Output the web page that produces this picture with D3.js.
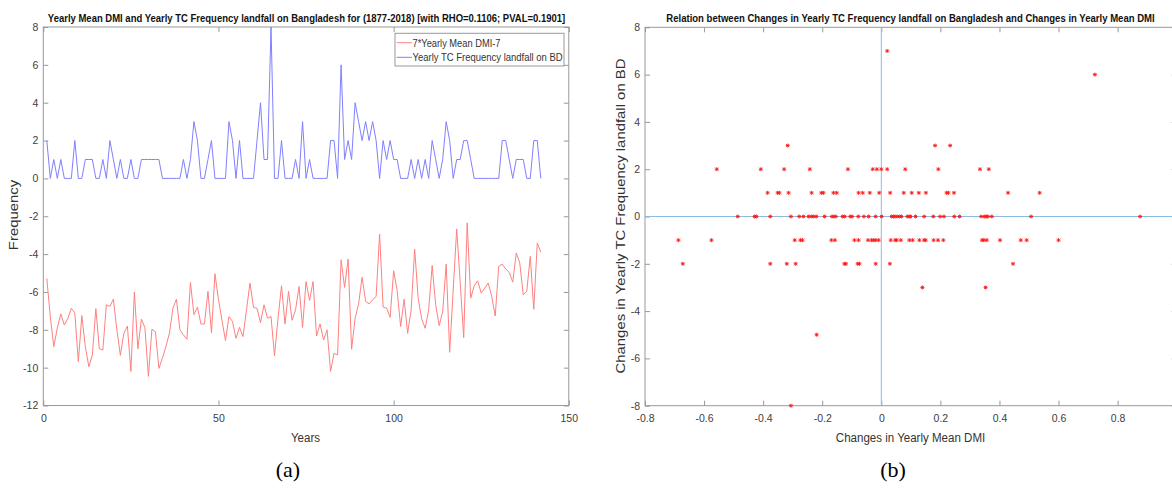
<!DOCTYPE html>
<html><head><meta charset="utf-8">
<script src="https://cdn.jsdelivr.net/npm/d3@7"></script>
<style>
html,body{margin:0;padding:0;background:#fff;}
svg{display:block;}
</style></head>
<body>
<svg id="c" width="1172" height="488"></svg>
<script>
// ---------------- DATA ----------------
const years = d3.range(1, 143); // year index 1..142 (1877-2018)
const tcFreq = [2,0,1,0,1,0,0,0,2,0, 0,1,1,1,0,0,1,0,2,1, 0,1,0,0,1,0,0,1,1,1,
  1,1,1,0,0,0,0,0,0,1, 0,1,3,2,0,0,1,2,0,0, 0,0,3,2,0,2,0,0,0,0,
  2,4,1,1,8,0,0,2,0,0, 0,1,0,3,0,1,0,0,0,0, 0,2,2,0,6,1,2,1,4,3,
  2,3,2,3,2,0,2,1,2,1, 1,0,0,0,1,0,1,0,1,0, 2,1,0,1,3,2,0,1,1,2,
  2,1,0,0,0,0,0,0,0,0, 2,2,1,0,1,1,1,0,0,2, 2,0];
const dmiScaled = [-5.29,-7.3,-8.89,-7.9,-7.16,-7.74,-7.4,-6.86,-7.12,-9.68,
  -7.25,-8.9,-9.95,-9.33,-6.88,-9.0,-9.07,-6.68,-6.77,-6.38,
  -8.0,-9.35,-8.18,-7.8,-10.2,-6.0,-9.0,-7.44,-7.88,-10.46,
  -7.97,-8.1,-10.04,-9.5,-8.89,-8.18,-6.86,-6.38,-8.0,-8.27,
  -8.5,-5.5,-7.2,-6.8,-7.69,-7.69,-5.97,-8.15,-5.04,-6.4,
  -7.5,-8.57,-7.3,-7.56,-8.45,-7.87,-8.36,-6.95,-5.53,-6.82,
  -6.86,-7.62,-6.68,-7.39,-7.3,-9.37,-7.4,-5.67,-7.69,-5.97,
  -7.5,-6.95,-5.71,-7.87,-5.45,-6.45,-5.45,-8.33,-7.69,-8.54,
  -8.0,-10.2,-9.24,-9.33,-4.3,-5.76,-4.26,-9.03,-7.39,-6.63,
  -5.22,-6.5,-6.63,-6.42,-6.24,-2.94,-6.8,-6.86,-7.34,-4.88,
  -5.92,-7.83,-6.38,-8.18,-6.95,-3.73,-6.33,-7.42,-7.92,-6.95,
  -4.6,-6.68,-7.78,-7.04,-4.53,-9.19,-5.9,-2.67,-5.5,-8.41,
  -2.35,-6.33,-5.67,-5.41,-6.06,-5.8,-5.53,-6.24,-7.27,-4.65,
  -4.53,-4.79,-4.97,-5.48,-3.94,-4.47,-6.15,-5.97,-4.12,-6.91,
  -3.41,-3.9];
// scatter: changes in yearly mean DMI (x) and changes in TC frequency (y)
const dmiChange = [
  0.020,
  0.723,
  -0.317,0.182,0.233,
  -0.557,-0.408,-0.329,-0.242,-0.113,-0.029,-0.015,0.0,0.020,0.081,0.193,0.334,0.364,
  -0.385,-0.351,-0.345,-0.314,-0.236,-0.203,-0.196,-0.162,-0.151,-0.077,-0.063,-0.039,-0.007,0.030,0.076,0.103,0.127,0.151,0.221,0.227,0.246,0.429,0.536,
  -0.486,-0.429,-0.423,-0.376,-0.306,-0.278,-0.264,-0.246,-0.236,-0.229,-0.220,-0.192,-0.167,-0.161,-0.154,-0.131,-0.124,-0.105,-0.099,-0.078,-0.059,-0.043,-0.019,0.001,0.035,0.041,0.047,0.054,0.062,0.068,0.088,0.094,0.099,0.116,0.145,0.176,0.199,0.212,0.247,0.265,0.338,0.349,0.356,0.361,0.374,0.507,0.876,
  -0.687,-0.575,-0.293,-0.274,-0.267,-0.169,-0.157,-0.091,-0.077,-0.045,-0.033,-0.026,-0.019,-0.009,0.032,0.047,0.052,0.066,0.095,0.106,0.129,0.145,0.150,0.177,0.192,0.210,0.341,0.347,0.357,0.402,0.472,0.492,0.600,
  -0.672,-0.376,-0.320,-0.290,-0.125,-0.120,-0.080,-0.074,-0.019,0.029,0.446,
  0.139,0.353,
  -0.219,
  -0.306];
const tcChange = [
  7,
  6,
  3,3,3,
  2,2,2,2,2,2,2,2,2,2,2,2,2,
  1,1,1,1,1,1,1,1,1,1,1,1,1,1,1,1,1,1,1,1,1,1,1,
  0,0,0,0,0,0,0,0,0,0,0,0,0,0,0,0,0,0,0,0,0,0,0,0,0,0,0,0,0,0,0,0,0,0,0,0,0,0,0,0,0,0,0,0,0,0,0,
  -1,-1,-1,-1,-1,-1,-1,-1,-1,-1,-1,-1,-1,-1,-1,-1,-1,-1,-1,-1,-1,-1,-1,-1,-1,-1,-1,-1,-1,-1,-1,-1,-1,
  -2,-2,-2,-2,-2,-2,-2,-2,-2,-2,-2,
  -3,-3,
  -5,
  -8];
const leftYTicks = [-12,-10,-8,-6,-4,-2,0,2,4,6,8];
const leftXTicks = [0,50,100,150];
const rightYTicks = [-8,-6,-4,-2,0,2,4,6,8];
const rightXTicks = [-0.8,-0.6,-0.4,-0.2,0,0.2,0.4,0.6,0.8,1.0];
const rightXLabels = [-0.8,-0.6,-0.4,-0.2,0,0.2,0.4,0.6,0.8];

// ---------------- DRAW ----------------
const svg = d3.select("#c");
svg.append("rect").attr("width",1172).attr("height",488).attr("fill","#fff");
const FONT = "'Liberation Sans', Arial, Helvetica, sans-serif";
const AX = "#999";
const TXT = "#404040";
const fmt = d => String(Math.round(d*10)/10);

function box(g, x, y){
  const [x0,x1] = x.range(), [y0,y1] = y.range();
  g.append("rect").attr("x",Math.min(x0,x1)).attr("y",Math.min(y0,y1))
    .attr("width",Math.abs(x1-x0)).attr("height",Math.abs(y1-y0))
    .attr("fill","none").attr("stroke",AX).attr("stroke-width",1);
}
function axes(g, x, y, xt, yt, xl){
  const [x0,x1] = x.range(), [y0,y1] = y.range();
  const style = sel => { sel.select(".domain").remove();
    sel.selectAll("line").attr("stroke",AX);
    sel.selectAll("text").attr("fill",TXT).style("font-family",FONT).style("font-size","10.5px"); };
  g.append("g").attr("transform",`translate(0,${y0})`)
    .call(d3.axisBottom(x).tickValues(xt).tickSizeInner(-5).tickSizeOuter(0).tickPadding(9)
      .tickFormat(d => xl.includes(d) ? fmt(d) : "")).call(style);
  g.append("g").attr("transform",`translate(0,${y1})`)
    .call(d3.axisTop(x).tickValues(xt).tickSizeInner(-5).tickSizeOuter(0).tickFormat("")).call(style);
  g.append("g").attr("transform",`translate(${x0},0)`)
    .call(d3.axisLeft(y).tickValues(yt).tickSizeInner(-5).tickSizeOuter(0).tickPadding(5).tickFormat(fmt)).call(style);
  g.append("g").attr("transform",`translate(${x1},0)`)
    .call(d3.axisRight(y).tickValues(yt).tickSizeInner(-5).tickSizeOuter(0).tickFormat("")).call(style);
}
// horizontal text squeezed (like the reference) to a measured width via a transform
function htext(parent, t, x, y, size, width, weight, anchor){
  const e = parent.append("text").attr("x",0).attr("y",0).attr("text-anchor",anchor || "middle")
    .style("font-family",FONT).style("font-size",size+"px").attr("fill", weight ? "#111" : "#333")
    .style("font-weight", weight || "normal").text(t);
  const w = e.node().getComputedTextLength() || width;
  e.attr("transform",`translate(${x},${y}) scale(${(width/w).toFixed(4)},1)`);
  return e;
}
function vtext(t, x, y, size){
  svg.append("text").attr("transform",`translate(${x},${y}) scale(0.85,1) rotate(-90)`)
    .attr("text-anchor","middle").style("font-family",FONT).style("font-size",size+"px")
    .attr("fill","#333").text(t);
}

// ---- Left chart (a)
const xL = d3.scaleLinear().domain([0,150]).range([43.3,568.8]);
const yL = d3.scaleLinear().domain([-12,8]).range([405.5,27]);
const gL = svg.append("g");
box(gL, xL, yL);
axes(gL, xL, yL, leftXTicks, leftYTicks, leftXTicks);
const line = d3.line().x((d,i)=>xL(years[i])).y(d=>yL(d));
gL.append("path").datum(dmiScaled).attr("d",line).attr("fill","none")
  .attr("stroke","#ff8080").attr("stroke-width",1);
gL.append("path").datum(tcFreq).attr("d",line).attr("fill","none")
  .attr("stroke","#8080ff").attr("stroke-width",1);
// legend
const lg = gL.append("g");
lg.append("rect").attr("x",395).attr("y",33.3).attr("width",169).attr("height",32.7)
  .attr("fill","#fff").attr("stroke",AX);
const legendItems = [["7*Yearly Mean DMI-7","#ff8080",88],["Yearly TC Frequency landfall on BD","#8080ff",150.3]];
legendItems.forEach((it,k)=>{
  const cy = 42.7 + k*14.6;
  lg.append("line").attr("x1",396.7).attr("x2",412).attr("y1",cy).attr("y2",cy)
    .attr("stroke",it[1]).attr("stroke-width",1);
  htext(lg, it[0], 412.5, cy+3.8, 10.6, it[2], null, "start");
});
htext(svg, "Yearly Mean DMI and Yearly TC Frequency landfall on Bangladesh for (1877-2018) [with RHO=0.1106; PVAL=0.1901]",
  306.5, 22, 11.3, 518, "bold");
htext(svg, "Years", 305.5, 442, 13.5, 29);
vtext("Frequency", 18, 215, 14.9);
svg.append("text").attr("x",288).attr("y",477).attr("text-anchor","middle")
  .style("font-family","'Liberation Serif','Times New Roman',serif").style("font-size","22px")
  .attr("fill","#000").text("(a)");

// ---- Right chart (b)
const xR = d3.scaleLinear().domain([-0.8,1.0]).range([645,1176.7]);
const yR = d3.scaleLinear().domain([-8,8]).range([405.7,27.3]);
const gR = svg.append("g");
box(gR, xR, yR);
axes(gR, xR, yR, rightXTicks, rightYTicks, rightXLabels);
gR.append("line").attr("x1",xR(0)).attr("x2",xR(0)).attr("y1",yR(-8)).attr("y2",yR(8))
  .attr("stroke","#8fbbe0").attr("stroke-width",1);
gR.append("line").attr("x1",xR(-0.8)).attr("x2",xR(1.0)).attr("y1",yR(0)).attr("y2",yR(0))
  .attr("stroke","#8fbbe0").attr("stroke-width",1);
const star = (cx,cy) => {
  const a=2, b=1.5;
  return `M${cx-a},${cy}L${cx+a},${cy}M${cx},${cy-a}L${cx},${cy+a}M${cx-b},${cy-b}L${cx+b},${cy+b}M${cx-b},${cy+b}L${cx+b},${cy-b}`;
};
gR.selectAll("path.pt").data(dmiChange).join("path").attr("class","pt")
  .attr("d",(d,i)=>star(xR(d), yR(tcChange[i])))
  .attr("stroke","#ff1a1a").attr("stroke-width",0.9).attr("fill","none");
htext(svg, "Relation between Changes in Yearly TC Frequency landfall on Bangladesh and Changes in Yearly Mean DMI",
  910.5, 22, 11.3, 489, "bold");
htext(svg, "Changes in Yearly Mean DMI", 910.5, 442, 13.5, 149.6);
vtext("Changes in Yearly TC Frequency landfall on BD", 625, 216, 14.9);
svg.append("text").attr("x",893).attr("y",477).attr("text-anchor","middle")
  .style("font-family","'Liberation Serif','Times New Roman',serif").style("font-size","22px")
  .attr("fill","#000").text("(b)");
</script>
</body></html>
